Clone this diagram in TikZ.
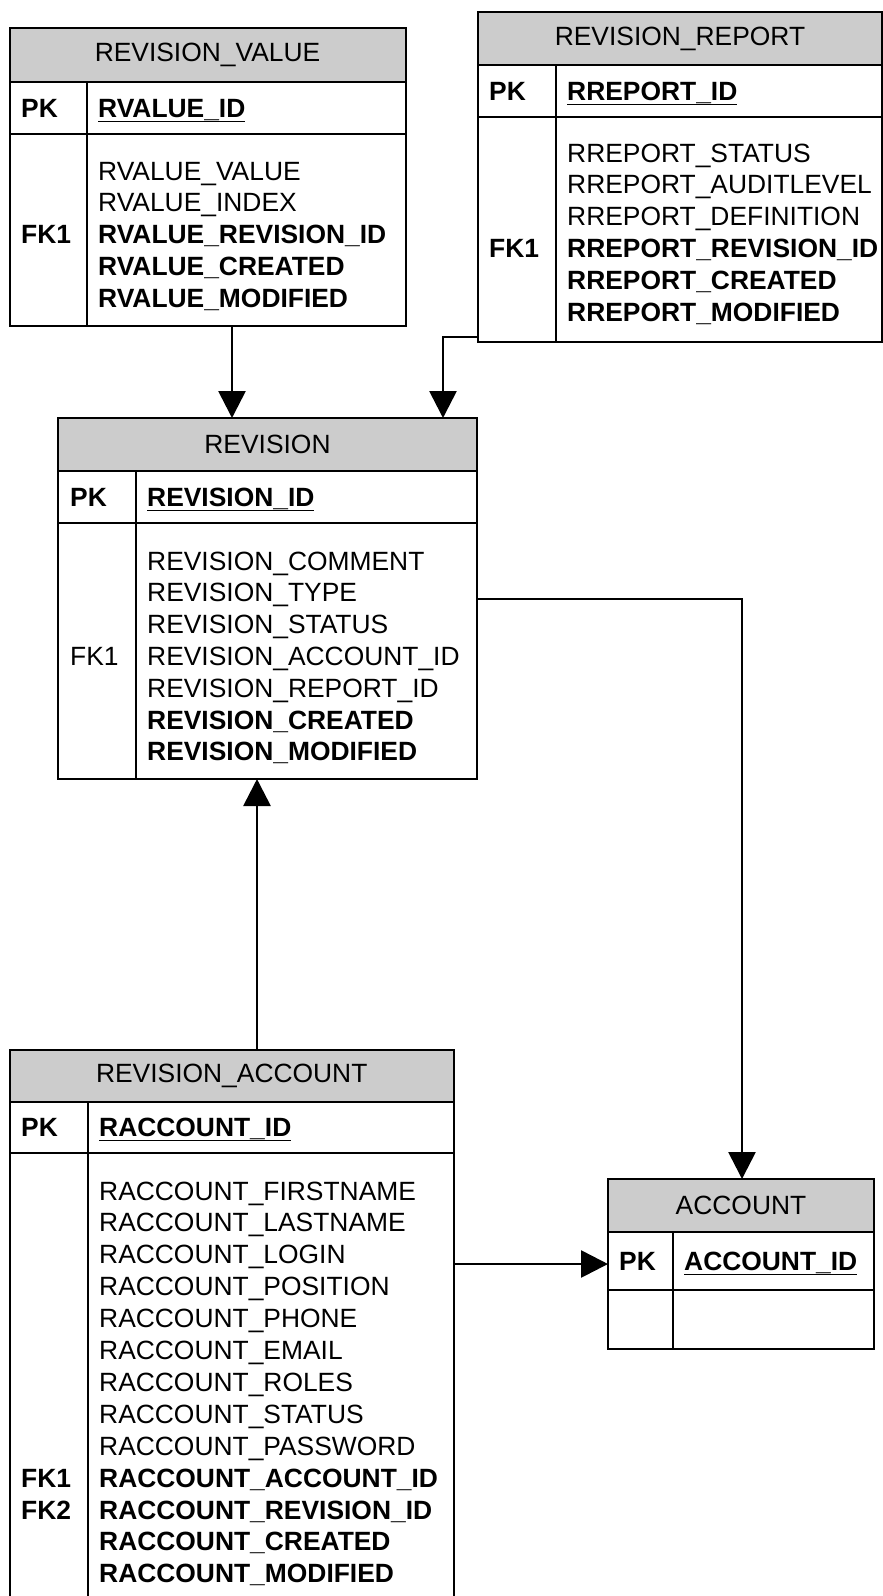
\documentclass[tikz,border=0pt]{standalone}
\usepackage{fontspec}
\setmainfont{Liberation Sans}
\usetikzlibrary{arrows.meta}

\newcommand{\erfont}{\fontsize{26.4}{31.8}\selectfont}
\tikzset{
	tablebox/.style={draw, line width=2pt, anchor=north west, inner sep=0pt, outer sep=0pt},
	tablehead/.style={tablebox, fill=black!20, font=\erfont},
	divider/.style={line width=2pt},
	keytext/.style={anchor=base west, inner sep=0pt, font=\erfont\bfseries},
	fieldtext/.style={anchor=base west, inner sep=0pt, font=\erfont},
	fkarrow/.style={line width=2.7pt, -{Triangle[length=27pt, width=27pt]}}
}

\begin{document}
\begin{tikzpicture}[x=1pt, y=-1pt]
		\useasboundingbox (0,0) rectangle (883,1596);

		% REVISION_VALUE
		\node[tablehead, minimum width=396, minimum height=54] (rv-head) at (9.5,28) {REVISION\_VALUE};
		\node[tablebox, minimum width=396, minimum height=52] (rv-pk) at (rv-head.south west) {};
		\node[tablebox, minimum width=396, minimum height=192] (rv-body) at (rv-pk.south west) {};
		\draw[divider] (87,82) -- (87,326);
		\node[keytext] (rv-pkkey) at (21,117) {PK};
		\node[fieldtext] (rv-id) at (98,117) {\textbf{\underline{RVALUE\_ID}}};
		\node[keytext] (rv-fk1) at (21,243.6) {FK1};
		\foreach \f [count=\i from 0] in {RVALUE\_VALUE, RVALUE\_INDEX, \textbf{RVALUE\_REVISION\_ID}, \textbf{RVALUE\_CREATED}, \textbf{RVALUE\_MODIFIED}}
			\node[fieldtext] (rv-f\i) at (98,180+31.8*\i) {\f};

		% REVISION_REPORT
		\node[tablehead, minimum width=404, minimum height=53] (rr-head) at (478,12) {REVISION\_REPORT};
		\node[tablebox, minimum width=404, minimum height=52] (rr-pk) at (rr-head.south west) {};
		\node[tablebox, minimum width=404, minimum height=225] (rr-body) at (rr-pk.south west) {};
		\draw[divider] (556,65) -- (556,342);
		\node[keytext] (rr-pkkey) at (489,100) {PK};
		\node[fieldtext] (rr-id) at (567,100) {\textbf{\underline{RREPORT\_ID}}};
		\node[keytext] (rr-fk1) at (489,257.4) {FK1};
		\foreach \f [count=\i from 0] in {RREPORT\_STATUS, RREPORT\_AUDITLEVEL, RREPORT\_DEFINITION, \textbf{RREPORT\_REVISION\_ID}, \textbf{RREPORT\_CREATED}, \textbf{RREPORT\_MODIFIED}}
			\node[fieldtext] (rr-f\i) at (567,162+31.8*\i) {\f};

		% REVISION
		\node[tablehead, minimum width=419, minimum height=53] (rev-head) at (58,418) {REVISION};
		\node[tablebox, minimum width=419, minimum height=52] (rev-pk) at (rev-head.south west) {};
		\node[tablebox, minimum width=419, minimum height=256] (rev-body) at (rev-pk.south west) {};
		\draw[divider] (136,471) -- (136,779);
		\node[keytext] (rev-pkkey) at (70,506) {PK};
		\node[fieldtext] (rev-id) at (147,506) {\textbf{\underline{REVISION\_ID}}};
		\node[fieldtext] (rev-fk1) at (70,665.4) {FK1};
		\foreach \f [count=\i from 0] in {REVISION\_COMMENT, REVISION\_TYPE, REVISION\_STATUS, REVISION\_ACCOUNT\_ID, REVISION\_REPORT\_ID, \textbf{REVISION\_CREATED}, \textbf{REVISION\_MODIFIED}}
			\node[fieldtext] (rev-f\i) at (147,570+31.8*\i) {\f};

		% REVISION_ACCOUNT
		\node[tablehead, minimum width=444.5, minimum height=52] (ra-head) at (9.5,1050) {REVISION\_ACCOUNT};
		\node[tablebox, minimum width=444.5, minimum height=51] (ra-pk) at (ra-head.south west) {};
		\node[tablebox, minimum width=444.5, minimum height=450] (ra-body) at (ra-pk.south west) {};
		\draw[divider] (87.5,1102) -- (87.5,1603);
		\node[keytext] (ra-pkkey) at (21,1136) {PK};
		\node[fieldtext] (ra-id) at (99,1136) {\textbf{\underline{RACCOUNT\_ID}}};
		\node[keytext] (ra-fk1) at (21,1487.1) {FK1};
		\node[keytext] (ra-fk2) at (21,1519) {FK2};
		\foreach \f [count=\i from 0] in {RACCOUNT\_FIRSTNAME, RACCOUNT\_LASTNAME, RACCOUNT\_LOGIN, RACCOUNT\_POSITION, RACCOUNT\_PHONE, RACCOUNT\_EMAIL, RACCOUNT\_ROLES, RACCOUNT\_STATUS, RACCOUNT\_PASSWORD, \textbf{RACCOUNT\_ACCOUNT\_ID}, \textbf{RACCOUNT\_REVISION\_ID}, \textbf{RACCOUNT\_CREATED}, \textbf{RACCOUNT\_MODIFIED}}
			\node[fieldtext] (ra-f\i) at (99,1200+31.9*\i) {\f};

		% ACCOUNT
		\node[tablehead, minimum width=266, minimum height=53] (acc-head) at (608,1179) {ACCOUNT};
		\node[tablebox, minimum width=266, minimum height=58] (acc-pk) at (acc-head.south west) {};
		\node[tablebox, minimum width=266, minimum height=59] (acc-body) at (acc-pk.south west) {};
		\draw[divider] (673,1232) -- (673,1349);
		\node[keytext] (acc-pkkey) at (619,1270) {PK};
		\node[fieldtext] (acc-id) at (684,1270) {\textbf{\underline{ACCOUNT\_ID}}};

		% foreign key links
		\coordinate (rv-link) at (232,0);
		\coordinate (rr-link) at (443,337);
		\coordinate (acc-link) at (742,599);
		\coordinate (ra-link) at (257,0);
		\coordinate (ra-acc-link) at (0,1264);
		\draw[fkarrow] (rv-body.south -| rv-link) -- (rev-head.north -| rv-link);
		\draw[fkarrow] (rr-body.west |- rr-link) -| (rev-head.north -| rr-link);
		\draw[fkarrow] (rev-body.east |- acc-link) -| (acc-head.north -| acc-link);
		\draw[fkarrow] (ra-head.north -| ra-link) -- (rev-body.south -| ra-link);
		\draw[fkarrow] (ra-body.east |- ra-acc-link) -- (acc-pk.west |- ra-acc-link);
	\end{tikzpicture}
\end{document}
